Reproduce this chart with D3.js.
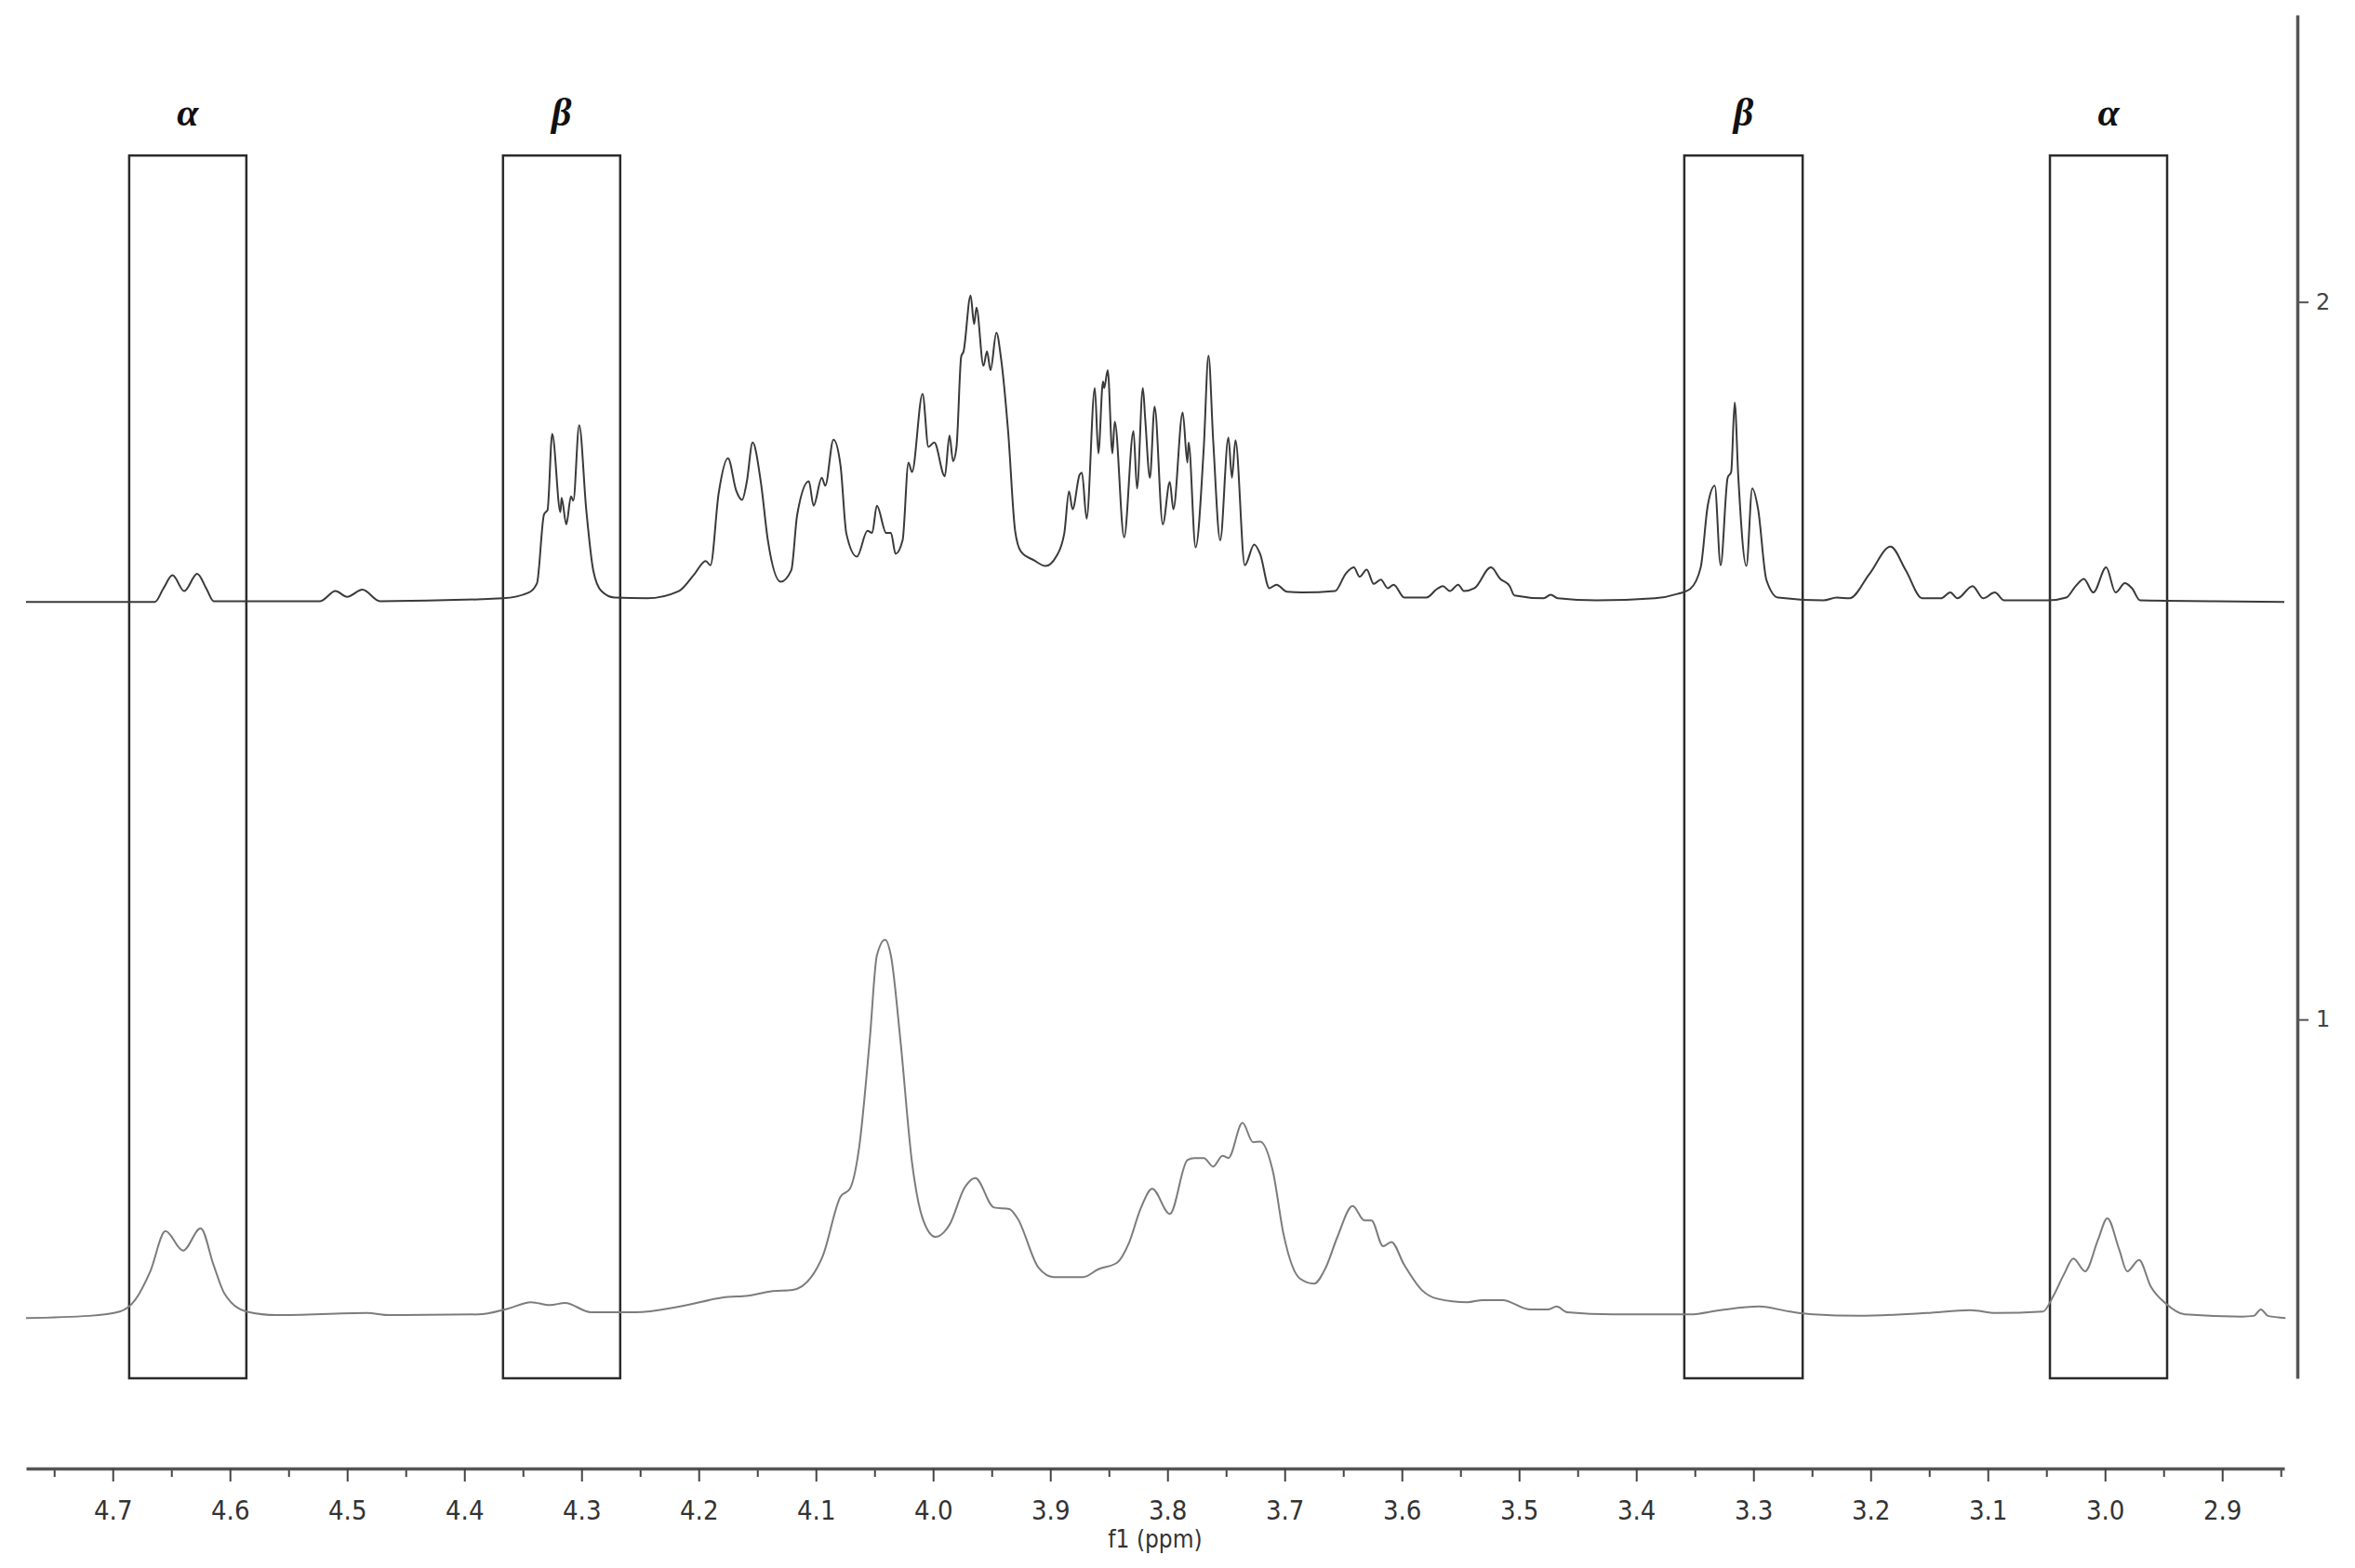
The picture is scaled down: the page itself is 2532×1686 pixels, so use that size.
<!DOCTYPE html>
<html>
<head>
<meta charset="utf-8">
<script src="https://cdn.jsdelivr.net/npm/d3@7"></script>
<style>
  body { margin: 0; background: #fff; }
  svg { display: block; }
  .xaxis text { font-family: "DejaVu Sans Condensed", "DejaVu Sans", sans-serif; font-stretch: condensed; font-size: 29px; fill: #333; }
  .yaxis text { font-family: "DejaVu Sans", sans-serif; font-size: 24px; fill: #444; }
  .region-label { font-family: "Liberation Serif", "Times New Roman", serif; font-style: italic; font-weight: bold; font-size: 42px; fill: #111; }
</style>
</head>
<body>
<svg id="chart" width="2532" height="1686"></svg>
<script>
// chemical shift (ppm) and intensity
var topPpm = [4.774, 4.664, 4.657, 4.649, 4.639, 4.628, 4.620, 4.614, 4.523, 4.510, 4.500, 4.487, 4.472, 4.367, 4.345, 4.338,
  4.332, 4.329, 4.325, 4.318, 4.317, 4.313, 4.309, 4.307, 4.302, 4.296, 4.290, 4.283, 4.272, 4.244, 4.217, 4.204,
  4.194, 4.190, 4.183, 4.175, 4.168, 4.163, 4.159, 4.154, 4.147, 4.141, 4.130, 4.121, 4.116, 4.106, 4.102, 4.095,
  4.092, 4.085, 4.079, 4.074, 4.065, 4.056, 4.052, 4.048, 4.040, 4.036, 4.032, 4.026, 4.021, 4.018, 4.009, 4.004,
  3.999, 3.990, 3.986, 3.983, 3.980, 3.976, 3.974, 3.968, 3.965, 3.963, 3.957, 3.954, 3.951, 3.946, 3.942, 3.936,
  3.930, 3.925, 3.914, 3.904, 3.895, 3.888, 3.884, 3.881, 3.875, 3.873, 3.869, 3.862, 3.859, 3.855, 3.854, 3.851,
  3.847, 3.845, 3.837, 3.829, 3.826, 3.821, 3.819, 3.815, 3.811, 3.804, 3.798, 3.795, 3.787, 3.783, 3.782, 3.776,
  3.769, 3.765, 3.761, 3.755, 3.748, 3.745, 3.742, 3.734, 3.726, 3.721, 3.713, 3.707, 3.698, 3.685, 3.657, 3.648,
  3.641, 3.636, 3.630, 3.624, 3.618, 3.612, 3.607, 3.598, 3.579, 3.570, 3.565, 3.559, 3.552, 3.547, 3.538, 3.524,
  3.516, 3.508, 3.504, 3.479, 3.473, 3.467, 3.434, 3.384, 3.365, 3.354, 3.345, 3.339, 3.333, 3.328, 3.322, 3.319,
  3.316, 3.313, 3.306, 3.301, 3.296, 3.289, 3.279, 3.240, 3.229, 3.218, 3.201, 3.183, 3.170, 3.156, 3.140, 3.132,
  3.126, 3.113, 3.104, 3.094, 3.086, 3.049, 3.033, 3.025, 3.018, 3.010, 2.999, 2.991, 2.983, 2.977, 2.970, 2.906,
  2.847];
var topInt = [1.582, 1.582, 1.600, 1.619, 1.597, 1.621, 1.600, 1.583, 1.583, 1.597, 1.589, 1.599, 1.583, 1.587, 1.595, 1.608,
  1.704, 1.710, 1.816, 1.707, 1.727, 1.690, 1.729, 1.723, 1.828, 1.711, 1.626, 1.597, 1.588, 1.587, 1.597, 1.620,
  1.639, 1.633, 1.733, 1.782, 1.737, 1.724, 1.749, 1.804, 1.749, 1.668, 1.610, 1.626, 1.703, 1.750, 1.716, 1.755,
  1.744, 1.808, 1.772, 1.677, 1.645, 1.681, 1.678, 1.716, 1.678, 1.678, 1.649, 1.668, 1.776, 1.763, 1.872, 1.798,
  1.804, 1.757, 1.814, 1.778, 1.798, 1.924, 1.931, 2.009, 1.969, 1.992, 1.911, 1.931, 1.905, 1.957, 1.921, 1.820,
  1.681, 1.652, 1.640, 1.632, 1.645, 1.678, 1.736, 1.711, 1.759, 1.762, 1.698, 1.880, 1.789, 1.889, 1.880, 1.905,
  1.789, 1.833, 1.672, 1.820, 1.740, 1.880, 1.837, 1.755, 1.854, 1.690, 1.749, 1.711, 1.846, 1.776, 1.804, 1.658,
  1.798, 1.925, 1.807, 1.668, 1.811, 1.755, 1.807, 1.633, 1.662, 1.649, 1.601, 1.606, 1.596, 1.595, 1.597, 1.621,
  1.630, 1.617, 1.627, 1.607, 1.613, 1.601, 1.606, 1.588, 1.588, 1.600, 1.604, 1.597, 1.606, 1.597, 1.601, 1.630,
  1.614, 1.604, 1.591, 1.587, 1.592, 1.587, 1.584, 1.587, 1.593, 1.600, 1.630, 1.716, 1.744, 1.633, 1.755, 1.763,
  1.860, 1.759, 1.632, 1.740, 1.711, 1.613, 1.588, 1.584, 1.588, 1.587, 1.621, 1.659, 1.626, 1.587, 1.587, 1.595,
  1.587, 1.604, 1.587, 1.595, 1.584, 1.584, 1.588, 1.604, 1.614, 1.595, 1.630, 1.595, 1.608, 1.601, 1.584, 1.583,
  1.582];

// bottom spectrum
var bottomPpm = [4.774, 4.720, 4.694, 4.681, 4.668, 4.655, 4.640, 4.625, 4.614, 4.605, 4.586, 4.560, 4.483, 4.464, 4.388, 4.363,
  4.343, 4.327, 4.314, 4.292, 4.254, 4.216, 4.177, 4.158, 4.139, 4.120, 4.104, 4.094, 4.079, 4.071, 4.063, 4.054,
  4.048, 4.041, 4.036, 4.028, 4.018, 4.009, 3.998, 3.986, 3.973, 3.964, 3.948, 3.935, 3.928, 3.910, 3.897, 3.872,
  3.859, 3.843, 3.833, 3.823, 3.813, 3.798, 3.783, 3.777, 3.769, 3.761, 3.753, 3.748, 3.736, 3.727, 3.721, 3.710,
  3.701, 3.687, 3.675, 3.665, 3.655, 3.642, 3.632, 3.626, 3.616, 3.609, 3.598, 3.583, 3.570, 3.544, 3.531, 3.514,
  3.491, 3.475, 3.468, 3.459, 3.420, 3.354, 3.328, 3.295, 3.269, 3.249, 3.210, 3.152, 3.115, 3.093, 3.053, 3.044,
  3.035, 3.027, 3.017, 3.006, 2.998, 2.988, 2.981, 2.971, 2.961, 2.948, 2.932, 2.883, 2.873, 2.867, 2.861, 2.846];
var bottomInt = [0.584, 0.587, 0.593, 0.609, 0.649, 0.705, 0.678, 0.709, 0.658, 0.619, 0.593, 0.588, 0.591, 0.588, 0.589, 0.597,
  0.606, 0.602, 0.605, 0.592, 0.592, 0.600, 0.613, 0.615, 0.621, 0.623, 0.641, 0.671, 0.753, 0.764, 0.823, 0.973,
  1.089, 1.111, 1.089, 0.973, 0.801, 0.723, 0.697, 0.714, 0.766, 0.779, 0.738, 0.736, 0.723, 0.654, 0.641, 0.641,
  0.652, 0.661, 0.688, 0.736, 0.764, 0.729, 0.804, 0.807, 0.807, 0.795, 0.810, 0.807, 0.856, 0.829, 0.830, 0.788,
  0.701, 0.639, 0.632, 0.654, 0.697, 0.740, 0.720, 0.720, 0.684, 0.690, 0.658, 0.623, 0.611, 0.606, 0.609, 0.609,
  0.596, 0.596, 0.600, 0.592, 0.589, 0.589, 0.595, 0.600, 0.593, 0.589, 0.587, 0.591, 0.595, 0.591, 0.593, 0.615,
  0.645, 0.667, 0.649, 0.693, 0.723, 0.680, 0.649, 0.665, 0.628, 0.604, 0.589, 0.586, 0.587, 0.596, 0.587, 0.584];

// marked regions
var regionLabels = ["α", "β", "β", "α"];
var regionStart = [4.686, 4.367, 3.359, 3.047];
var regionEnd = [4.586, 4.267, 3.258, 2.947];

var xTicks = [4.7, 4.6, 4.5, 4.4, 4.3, 4.2, 4.1, 4.0, 3.9, 3.8, 3.7, 3.6, 3.5, 3.4, 3.3, 3.2, 3.1, 3.0, 2.9];
var xMinorTicks = [4.75, 4.65, 4.55, 4.45, 4.35, 4.25, 4.15, 4.05, 3.95, 3.85, 3.75, 3.65, 3.55, 3.45, 3.35, 3.25, 3.15, 3.05, 2.95, 2.85];
var yTicks = [1, 2];

var svg = d3.select("#chart");

var x = d3.scaleLinear().domain([4.774, 2.847]).range([28, 2456]);
var y = d3.scaleLinear().domain([0.5, 2.4]).range([1482, 16]);

// boxes round the alpha / beta signals
var boxTop = 2.204;
regionLabels.forEach(function (lab, i) {
    var x0 = x(regionStart[i]), x1 = x(regionEnd[i]);
    svg.append("rect")
        .attr("x", x0)
        .attr("y", y(boxTop))
        .attr("width", x1 - x0)
        .attr("height", y(0.5) - y(boxTop))
        .attr("fill", "none")
        .attr("stroke", "#2b2b2b")
        .attr("stroke-width", 2.5);
    svg.append("text")
        .attr("class", "region-label")
        .attr("x", (x0 + x1) / 2)
        .attr("y", y(boxTop) - 32)
        .attr("text-anchor", "middle")
        .text(lab);
});

var line = d3.line()
    .x(function (d) { return x(d[0]); })
    .y(function (d) { return y(d[1]); })
    .curve(d3.curveMonotoneX);

svg.append("path")
    .datum(d3.zip(bottomPpm, bottomInt))
    .attr("d", line)
    .attr("fill", "none")
    .attr("stroke", "#7c7c7c")
    .attr("stroke-width", 2);

svg.append("path")
    .datum(d3.zip(topPpm, topInt))
    .attr("d", line)
    .attr("fill", "none")
    .attr("stroke", "#3a3a3a")
    .attr("stroke-width", 2);

// x axis
var axisY = 1579;
svg.append("g")
    .attr("class", "xaxis")
    .attr("transform", "translate(0," + axisY + ")")
    .call(d3.axisBottom(x).tickValues(xMinorTicks).tickSize(9).tickSizeOuter(0).tickFormat(""))
    .call(function (g) { g.select(".domain").remove(); })
    .call(function (g) { g.selectAll("line").attr("stroke", "#444").attr("stroke-width", 2); });

var xg = svg.append("g")
    .attr("class", "xaxis")
    .attr("transform", "translate(0," + axisY + ")")
    .call(d3.axisBottom(x).tickValues(xTicks).tickSize(14).tickSizeOuter(0).tickPadding(20).tickFormat(d3.format(".1f")));
xg.select(".domain").attr("stroke", "#555").attr("stroke-width", 3.5);
xg.selectAll("line").attr("stroke", "#444").attr("stroke-width", 2);

svg.append("text")
    .attr("class", "xaxis")
    .attr("x", (x.range()[0] + x.range()[1]) / 2)
    .attr("y", 1664)
    .attr("text-anchor", "middle")
    .style("font-family", "'DejaVu Sans Condensed', 'DejaVu Sans', sans-serif")
    .style("font-stretch", "condensed")
    .style("font-size", "26px")
    .style("fill", "#333")
    .text("f1 (ppm)");

// y axis on the right
var yg = svg.append("g")
    .attr("class", "yaxis")
    .attr("transform", "translate(2470,0)")
    .call(d3.axisRight(y).tickValues(yTicks).tickSize(12).tickSizeOuter(0).tickPadding(8).tickFormat(d3.format("d")));
yg.select(".domain").attr("stroke", "#555").attr("stroke-width", 3.5);
yg.selectAll("line").attr("stroke", "#555").attr("stroke-width", 2);
</script>
</body>
</html>
